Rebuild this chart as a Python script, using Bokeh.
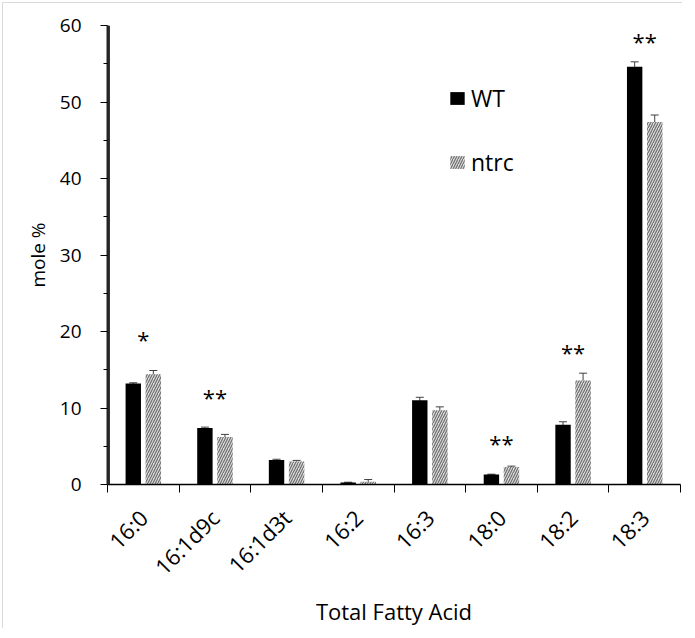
from math import pi
from bokeh.plotting import figure
from bokeh.models import (ColumnDataSource, FixedTicker, Whisker, Legend, LegendItem,
                          Range1d, Span)
from bokeh.core.properties import value
from bokeh.embed import file_html
from bokeh.resources import INLINE

categories = ["16:0", "16:1d9c", "16:1d3t", "16:2", "16:3", "18:0", "18:2", "18:3"]
wt_values = [13.2, 7.4, 3.2, 0.25, 11.0, 1.3, 7.8, 54.6]
wt_errors = [0.1, 0.1, 0.1, 0.05, 0.4, 0.05, 0.4, 0.65]
ntrc_values = [14.4, 6.2, 3.0, 0.35, 9.7, 2.3, 13.6, 47.4]
ntrc_errors = [0.5, 0.35, 0.15, 0.3, 0.45, 0.1, 0.95, 0.9]
star_labels = ["*", "**", "", "", "", "**", "**", "**"]
star_heights = [19.0, 11.5, 0, 0, 0, 5.4, 17.3, 58.0]
y_ticks = [0, 10, 20, 30, 40, 50, 60]

FONT = "Open Sans"
n = len(categories)
centers = [i + 0.5 for i in range(n)]
offset = 0.14
bw = 0.215

wt_src = ColumnDataSource(dict(
    x=[c - offset for c in centers], top=wt_values,
    upper=[v + e for v, e in zip(wt_values, wt_errors)],
    lower=[v - e for v, e in zip(wt_values, wt_errors)]))
nt_src = ColumnDataSource(dict(
    x=[c + offset for c in centers], top=ntrc_values,
    upper=[v + e for v, e in zip(ntrc_values, ntrc_errors)],
    lower=[v - e for v, e in zip(ntrc_values, ntrc_errors)]))
star_src = ColumnDataSource(dict(
    x=[c for c, s in zip(centers, star_labels) if s],
    y=[h for h, s in zip(star_heights, star_labels) if s],
    t=[s for s in star_labels if s]))

p = figure(width=680, height=626, output_backend="svg", toolbar_location=None,
           x_range=Range1d(0, n), y_range=Range1d(0, 60),
           min_border_left=104, min_border_right=3, min_border_top=22,
           min_border_bottom=144)
p.styles = {"margin-left": "2px", "margin-top": "2px", "margin-bottom": "-8px",
            "border-left": "1px solid #d9d9d9", "border-top": "1px solid #d9d9d9"}
p.outline_line_color = None
p.grid.visible = False
p.background_fill_color = "white"
p.border_fill_color = "white"

r_wt = p.vbar(x="x", top="top", width=bw, source=wt_src, fill_color="black",
              line_color=None)
r_nt = p.vbar(x="x", top="top", width=bw, source=nt_src, fill_color="#dcdcdc",
              line_color=None, hatch_pattern="/", hatch_color="#6e6e6e",
              hatch_scale=5, hatch_weight=1.2)

for src in (wt_src, nt_src):
    w = Whisker(base="x", upper="upper", lower="lower", source=src,
                line_color="#404040", line_width=1)
    w.upper_head.size = 8
    w.lower_head.size = 8
    w.upper_head.line_color = "#404040"
    w.lower_head.line_color = "#404040"
    p.add_layout(w)

p.text(x="x", y="y", text="t", source=star_src, text_align="center",
       text_baseline="middle", text_font=value(FONT), text_font_size="22px",
       text_color="black")

# left axis line, drawn just inside the frame's left edge
p.add_layout(Span(location=0.02, dimension="height", line_color="#262626",
                  line_width=2))

# x axis
xa = p.xaxis[0]
xa.ticker = FixedTicker(ticks=centers, minor_ticks=list(range(n + 1)))
xa.major_label_overrides = {c: lab for c, lab in zip(centers, categories)}
xa.major_tick_line_color = None
xa.minor_tick_line_color = "black"
xa.minor_tick_out = 8
xa.minor_tick_in = 0
xa.major_label_orientation = pi / 4
xa.major_label_text_font = FONT
xa.major_label_text_font_size = "22px"
xa.major_label_text_color = "black"
xa.major_label_standoff = 21
xa.axis_line_color = "black"
xa.axis_line_width = 1.5
xa.axis_label = "Total Fatty Acid"
xa.axis_label_text_font = FONT
xa.axis_label_text_font_size = "22px"
xa.axis_label_text_font_style = "normal"
xa.axis_label_text_color = "black"
xa.axis_label_standoff = 2

# y axis
ya = p.yaxis[0]
ya.ticker = FixedTicker(ticks=y_ticks, minor_ticks=[5, 15, 25, 35, 45, 55])
ya.major_tick_out = 7
ya.major_tick_in = 0
ya.minor_tick_out = 4
ya.minor_tick_in = 0
ya.major_tick_line_color = "black"
ya.minor_tick_line_color = "black"
ya.axis_line_color = "#262626"
ya.axis_line_width = 2
ya.major_label_text_font = FONT
ya.major_label_text_font_size = "19px"
ya.major_label_text_color = "black"
ya.major_label_standoff = 19
ya.axis_label = "mole %"
ya.axis_label_text_font = FONT
ya.axis_label_text_font_size = "19px"
ya.axis_label_text_font_style = "normal"
ya.axis_label_text_color = "black"
ya.axis_label_standoff = 6

legend = Legend(items=[LegendItem(label="WT", renderers=[r_wt]),
                       LegendItem(label="ntrc", renderers=[r_nt])],
                location=(341, 306), orientation="vertical",
                glyph_width=18, glyph_height=16, label_height=22,
                spacing=32, padding=0, margin=0, label_standoff=5,
                label_text_font=FONT, label_text_font_size="23px",
                label_text_color="black", border_line_color=None,
                background_fill_alpha=0)
p.add_layout(legend)

open("out.html", "w").write(file_html(p, INLINE))
